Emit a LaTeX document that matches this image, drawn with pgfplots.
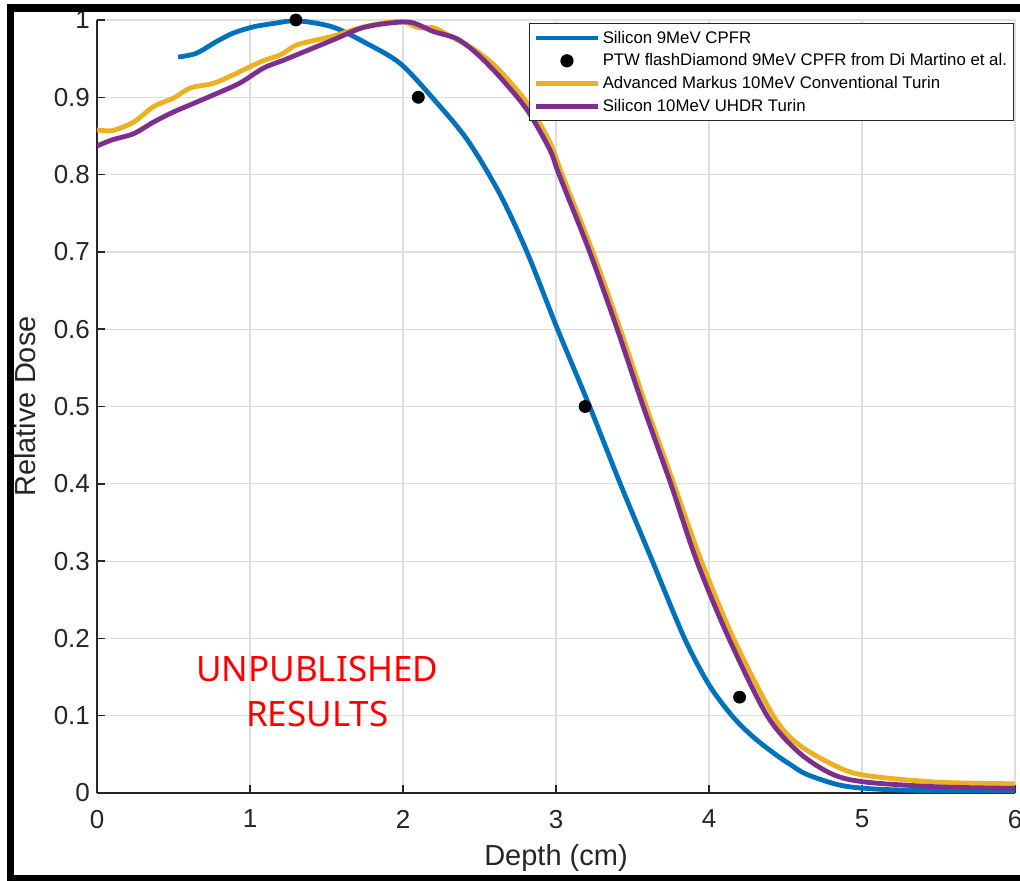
\documentclass[border=0pt]{standalone}
\usepackage{pgfplots}
\pgfplotsset{compat=1.18}
\usepackage{fontspec}
\setmainfont{Liberation Sans}
\newfontfamily\notofont{Noto Sans}
\definecolor{mblue}{rgb}{0,0.447,0.741}
\definecolor{myellow}{rgb}{0.929,0.694,0.125}
\definecolor{mpurple}{rgb}{0.494,0.184,0.556}
\definecolor{axgray}{rgb}{0.15,0.15,0.15}
\pgfplotsset{
  linelegend/.style={legend image code/.code={\draw[##1] (0pt,0pt) -- (31pt,0pt);}},
  dotlegend/.style={legend image code/.code={\draw[##1] plot coordinates {(15.5pt,0pt)};}},
}
\begin{document}
\begin{tikzpicture}
\useasboundingbox (0,0) rectangle (510pt,440pt);
\fill[white] (0,0) rectangle (510pt,440pt);
\begin{axis}[
  at={(48.5pt,43.5pt)}, anchor=south west,
  scale only axis, width=459pt, height=386.5pt,
  xmin=0, xmax=6, ymin=0, ymax=1,
  xtick={0,1,2,3,4,5,6},
  ytick={0,0.1,0.2,0.3,0.4,0.5,0.6,0.7,0.8,0.9,1},
  yticklabels={0,0.1,0.2,0.3,0.4,0.5,0.6,0.7,0.8,0.9,1},
  xticklabels={0,1,2,3,4,5,6},
  axis x line*=bottom, axis y line*=left,
  axis line style={axgray, line width=0.75pt, -},
  tick style={axgray, line width=0.75pt},
  tick align=inside, major tick length=4pt,
  grid=major, grid style={black!13, line width=0.6pt},
  ticklabel style={font=\fontsize{13}{15}\selectfont, text=axgray},
  xticklabel style={yshift=-5pt},
  /pgf/number format/assume math mode=true,
  xlabel={Depth (cm)}, ylabel={Relative Dose},
  label style={font=\fontsize{14.5}{17}\selectfont, text=axgray},
  xlabel style={at={(axis description cs:0.5,-0.084)}, anchor=center},
  ylabel style={at={(axis description cs:-0.0785,0.5)}, anchor=center},
  legend style={at={(1,1)}, anchor=north east, xshift=-0.5pt, yshift=-1.5pt,
    draw=axgray, line width=0.6pt, fill=white,
    font=\fontsize{8.4}{10}\selectfont,
    nodes={text height=7pt, text depth=2pt, inner sep=1.2pt},
    inner xsep=2pt, inner ysep=1.5pt},
  legend cell align=left,
  linelegend,
]
\addplot[mblue, line width=2.4pt, smooth, tension=0.5] coordinates {
(0.53,0.952) (0.65,0.957) (0.78,0.972) (0.89,0.983) (1.02,0.991) (1.17,0.996)
(1.31,0.999) (1.54,0.991) (1.76,0.970) (1.98,0.944) (2.19,0.900) (2.42,0.845)
(2.63,0.776) (2.81,0.700) (3.01,0.600) (3.22,0.500) (3.42,0.400) (3.63,0.300)
(3.84,0.200) (4.00,0.140) (4.15,0.100) (4.28,0.074) (4.42,0.052) (4.53,0.037)
(4.64,0.024) (4.86,0.010) (5.1,0.005) (5.5,0.003) (6.0,0.003)
};
\addlegendentry{Silicon 9MeV CPFR}
\addplot[only marks, mark=*, mark size=3pt, black, dotlegend] coordinates {
(1.30,1.000) (2.10,0.900) (3.19,0.500) (4.20,0.124)
};
\addlegendentry{PTW flashDiamond 9MeV CPFR from Di Martino et al.}
\addplot[myellow, line width=2.4pt, smooth, tension=0.5] coordinates {
(0,0.858) (0.1,0.857) (0.24,0.868) (0.37,0.888) (0.5,0.899) (0.61,0.912)
(0.76,0.918) (0.89,0.929) (1.07,0.946) (1.2,0.955) (1.31,0.968) (1.54,0.979)
(1.72,0.990) (1.87,0.996) (2.0,0.998) (2.1,0.990) (2.2,0.990) (2.3,0.980)
(2.48,0.960) (2.63,0.935) (2.81,0.893) (2.96,0.842) (3.04,0.800) (3.24,0.700)
(3.42,0.600) (3.59,0.500) (3.77,0.400) (3.95,0.300) (4.16,0.200) (4.42,0.100)
(4.59,0.062) (4.86,0.032) (5.05,0.022) (5.5,0.014) (6.0,0.012)
};
\addlegendentry{Advanced Markus 10MeV Conventional Turin}
\addplot[mpurple, line width=2.4pt, smooth, tension=0.5] coordinates {
(0,0.837) (0.1,0.845) (0.24,0.853) (0.37,0.868) (0.5,0.881) (0.63,0.892)
(0.76,0.903) (0.93,0.918) (1.09,0.938) (1.22,0.948) (1.33,0.957) (1.54,0.974)
(1.72,0.989) (1.87,0.995) (2.05,0.997) (2.2,0.985) (2.35,0.976) (2.48,0.957)
(2.63,0.927) (2.81,0.884) (2.96,0.832) (3.02,0.800) (3.22,0.700) (3.40,0.600)
(3.57,0.500) (3.75,0.400) (3.92,0.300) (4.13,0.200) (4.38,0.100) (4.59,0.052)
(4.81,0.024) (5.03,0.014) (5.5,0.008) (6.0,0.006)
};
\addlegendentry{Silicon 10MeV UHDR Turin}
\node[font=\notofont\fontsize{17.5}{22.5}\selectfont, text=red, align=center]
  at (axis cs:1.44,0.131) {UNPUBLISHED\\RESULTS};
\end{axis}
\draw[black, line width=3.75pt] (5.25pt,0.75pt) rectangle (530pt,436pt);
\end{tikzpicture}
\end{document}
